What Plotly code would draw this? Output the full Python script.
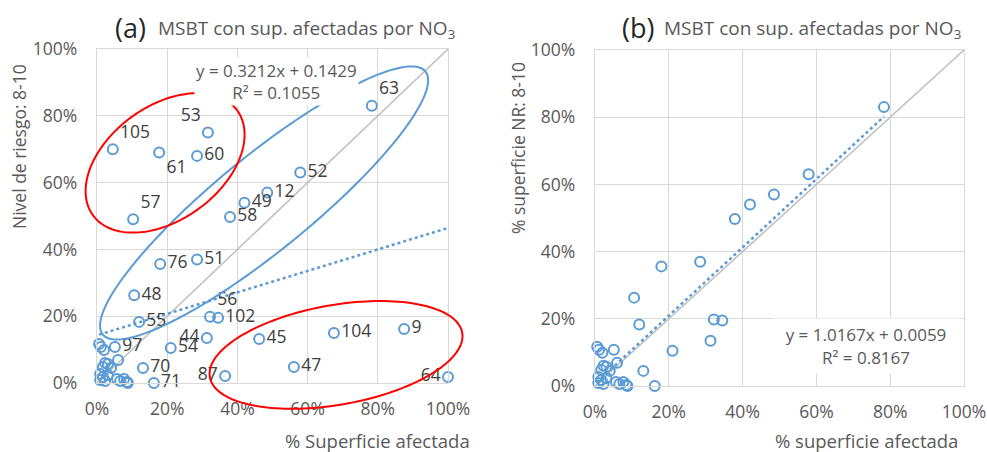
import numpy as np
import plotly.graph_objects as go

# ---------------- data ----------------
point_labels = ["105", "61", "60", "53", "57", "63", "52", "12", "49", "58",
                "76", "51", "48", "55", "56", "102", "44", "54", "97", "70",
                "71", "87", "45", "47", "104", "9", "64"]
pct_afectada = [0.045, 0.177, 0.285, 0.316, 0.103, 0.783, 0.579, 0.485, 0.420, 0.379,
                0.180, 0.285, 0.106, 0.120, 0.322, 0.345, 0.313, 0.210, 0.051, 0.131,
                0.162, 0.365, 0.462, 0.561, 0.675, 0.875, 1.000]
pct_riesgo = [0.700, 0.690, 0.680, 0.750, 0.490, 0.830, 0.630, 0.570, 0.540, 0.497,
              0.356, 0.370, 0.263, 0.183, 0.198, 0.195, 0.135, 0.105, 0.108, 0.045,
              0.000, 0.021, 0.132, 0.048, 0.150, 0.162, 0.018]
label_pos = ["top right", "bottom right", "middle right", "top left", "top right",
             "top right", "middle right", "middle right", "middle right", "middle right",
             "middle right", "middle right", "middle right", "middle right", "top right",
             "middle right", "middle left", "middle right", "middle right", "middle right",
             "middle right", "middle left", "middle right", "middle right", "middle right",
             "middle right", "middle left"]

# unlabelled points near the origin
cluster_afectada = [0.006, 0.011, 0.020, 0.060, 0.023, 0.031, 0.017, 0.040, 0.009, 0.017,
                    0.031, 0.009, 0.023, 0.057, 0.066, 0.077, 0.085, 0.088]
cluster_riesgo = [0.117, 0.108, 0.099, 0.069, 0.060, 0.057, 0.048, 0.045, 0.027, 0.018,
                  0.024, 0.009, 0.006, 0.012, 0.006, 0.012, 0.003, 0.000]

# points removed in panel (b) (inside red ellipses)
outliers = ["105", "61", "60", "53", "57", "87", "45", "47", "104", "9", "64"]

trend_a = {"slope": 0.3212, "intercept": 0.1429, "r2": 0.1055}
trend_b = {"slope": 1.0167, "intercept": 0.0059, "r2": 0.8167}

diag = [0.0, 1.0]
tick_vals = [0, 0.2, 0.4, 0.6, 0.8, 1.0]

# ---------------- layout geometry ----------------
W, H = 987, 452
def px_dom_x(a, b): return [a / W, b / W]
def px_dom_y(top, bottom): return [1 - bottom / H, 1 - top / H]

dom_x1, dom_y1 = px_dom_x(97, 448), px_dom_y(49, 383)
dom_x2, dom_y2 = px_dom_x(595, 964), px_dom_y(50, 386)

BLUE = "#5B9BD5"
GREY_TXT = "#595959"
FONT = "Open Sans"

fig = go.Figure()

all_x1 = pct_afectada + cluster_afectada
all_y1 = pct_riesgo + cluster_riesgo
all_lab = point_labels + [""] * len(cluster_afectada)
all_pos = label_pos + ["middle right"] * len(cluster_afectada)

keep = [i for i, l in enumerate(all_lab) if l not in outliers]
x2 = [all_x1[i] for i in keep]
y2 = [all_y1[i] for i in keep]

# diagonal 1:1 lines
for xa, ya in (("x", "y"), ("x2", "y2")):
    fig.add_trace(go.Scatter(x=diag, y=diag, mode="lines", xaxis=xa, yaxis=ya,
                             line=dict(color="#BFBFBF", width=1.5), hoverinfo="skip"))

# trendlines
tx1 = np.array([min(all_x1), max(all_x1)])
fig.add_trace(go.Scatter(x=tx1, y=trend_a["slope"] * tx1 + trend_a["intercept"], mode="lines",
                         xaxis="x", yaxis="y", line=dict(color=BLUE, width=2.5, dash="dot"),
                         hoverinfo="skip"))
tx2 = np.array([min(x2), max(x2)])
fig.add_trace(go.Scatter(x=tx2, y=trend_b["slope"] * tx2 + trend_b["intercept"], mode="lines",
                         xaxis="x2", yaxis="y2", line=dict(color=BLUE, width=2.5, dash="dot"),
                         hoverinfo="skip"))

marker = dict(symbol="circle-open", size=10, color=BLUE, line=dict(width=2, color=BLUE))

fig.add_trace(go.Scatter(x=all_x1, y=all_y1, mode="markers+text", text=all_lab,
                         textposition=all_pos, xaxis="x", yaxis="y", marker=marker,
                         textfont=dict(family=FONT, size=17.5, color="#404040"),
                         cliponaxis=False))
fig.add_trace(go.Scatter(x=x2, y=y2, mode="markers", xaxis="x2", yaxis="y2",
                         marker=marker, cliponaxis=False))

axis_common = dict(range=[0, 1], tickvals=tick_vals, tickformat=".0%", showgrid=True,
                   gridcolor="#D9D9D9", gridwidth=1.3, zeroline=False, showline=True,
                   linecolor="#D9D9D9", linewidth=1.3, mirror=True, ticks="",
                   tickfont=dict(family=FONT, size=17.5, color=GREY_TXT),
                   fixedrange=True, automargin=False)
xax = dict(axis_common, ticklabelstandoff=10)
yax = dict(axis_common, ticklabelstandoff=15)

fig.update_layout(
    width=W, height=H, margin=dict(l=0, r=0, t=0, b=0),
    paper_bgcolor="white", plot_bgcolor="white", showlegend=False,
    xaxis=dict(domain=dom_x1, anchor="y", **xax),
    yaxis=dict(domain=dom_y1, anchor="x", **yax),
    xaxis2=dict(domain=dom_x2, anchor="y2", **xax),
    yaxis2=dict(domain=dom_y2, anchor="x2", **yax),
)

# ---------------- ellipses (annotation drawings) ----------------
def ellipse_path(cx, cy, a, b, ang_deg, dx, dy, yscale=351 / 334):
    t = np.linspace(0, 2 * np.pi, 160)
    ph = np.radians(ang_deg)
    ex = cx + a * np.cos(t) * np.cos(ph) - b * np.sin(t) * np.sin(ph)
    ey = cy + (a * np.cos(t) * np.sin(ph) + b * np.sin(t) * np.cos(ph)) * yscale
    px = dx[0] + ex * (dx[1] - dx[0])
    py = dy[0] + ey * (dy[1] - dy[0])
    return "M " + " L ".join(f"{u:.5f},{v:.5f}" for u, v in zip(px, py)) + " Z"

ellipses = [
    (0.476, 0.539, 0.593, 0.135, 39.2, BLUE),
    (0.194, 0.659, 0.254, 0.162, 36.0, "#FF0000"),
    (0.681, 0.084, 0.365, 0.142, 10.0, "#FF0000"),
]
for cx, cy, a, b, ang, col in ellipses:
    fig.add_shape(type="path", xref="paper", yref="paper",
                  path=ellipse_path(cx, cy, a, b, ang, dom_x1, dom_y1),
                  line=dict(color=col, width=2), fillcolor="rgba(0,0,0,0)")

# ---------------- text ----------------
def ann(text, x, y, size, color=GREY_TXT, xanchor="center", angle=0, **kw):
    fig.add_annotation(text=text, x=x / W, y=1 - y / H, xref="paper", yref="paper",
                       xanchor=xanchor, yanchor="middle", showarrow=False, textangle=angle,
                       font=dict(family=FONT, size=size, color=color), **kw)

ann("(a)", 113, 27, 27, color="#262626", xanchor="left")
ann("MSBT con sup. afectadas por NO<sub>3</sub>", 156, 29, 19, xanchor="left")
ann("(b)", 620, 27, 27, color="#262626", xanchor="left")
ann("MSBT con sup. afectadas por NO<sub>3</sub>", 662, 29, 19, xanchor="left")

ann("Nivel de riesgo: 8-10", 19, 147, 17.5, angle=-90)
ann("% superficie NR: 8-10", 518, 148, 17.5, angle=-90)
ann("% Superficie afectada", 377, 440, 18.5)
ann("% superficie afectada", 866, 440, 18.5)

ann(f"y = {trend_a['slope']:.4f}x + {trend_a['intercept']:.4f}<br>R² = {trend_a['r2']:.4f}",
    276, 81, 17, bgcolor="white", borderpad=1)
ann(f"y = {trend_b['slope']:.4f}x + {trend_b['intercept']:.4f}<br>R² = {trend_b['r2']:.4f}",
    866, 346, 17, bgcolor="white", width=188, height=52)

fig.write_html("out.html", config={"displayModeBar": False},
               post_script="document.body.style.margin='0';")
